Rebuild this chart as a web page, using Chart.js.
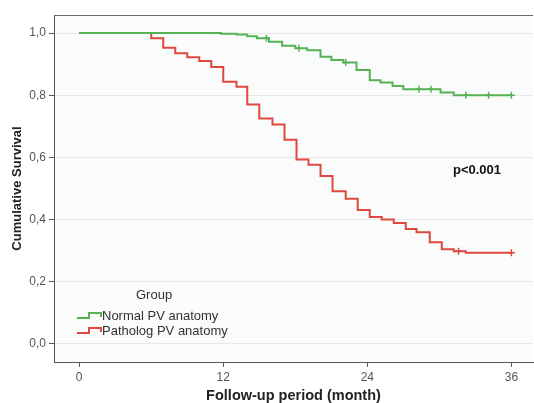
<!DOCTYPE html>
<html>
<head>
<meta charset="utf-8">
<script src="https://cdn.jsdelivr.net/npm/chart.js@4.4.1/dist/chart.umd.min.js"></script>
<style>
html, body { margin: 0; padding: 0; background: #fff; }
#wrap { width: 534px; height: 403px; }
</style>
</head>
<body>
<div id="wrap"><canvas id="kmChart" width="534" height="403"></canvas></div>
<script>
// Kaplan-Meier curves (month, cumulative survival)
const normalMonths = [0, 11.8, 13.1, 14.0, 14.8, 15.8, 16.9, 18.0, 19.0, 20.1, 21.0, 22.0, 23.1, 24.2, 25.1, 26.1, 27.0, 30.1, 31.2, 36];
const normalSurv   = [1.0, 0.998, 0.995, 0.990, 0.983, 0.972, 0.959, 0.951, 0.945, 0.924, 0.913, 0.905, 0.881, 0.848, 0.841, 0.830, 0.819, 0.809, 0.800, 0.800];

const pathMonths = [0, 6.0, 7.0, 8.0, 9.0, 10.0, 11.0, 12.0, 13.1, 14.0, 15.0, 16.1, 17.1, 18.1, 19.1, 20.1, 21.1, 22.2, 23.2, 24.2, 25.2, 26.2, 27.2, 28.1, 29.2, 30.2, 31.2, 32.2, 36];
const pathSurv   = [1.0, 0.983, 0.953, 0.935, 0.922, 0.910, 0.891, 0.843, 0.827, 0.770, 0.725, 0.706, 0.657, 0.593, 0.576, 0.540, 0.491, 0.467, 0.431, 0.408, 0.400, 0.389, 0.370, 0.359, 0.327, 0.305, 0.298, 0.293, 0.293];

// censored cases (+ marks)
const normalCensMonths = [15.6, 18.3, 22.2, 28.3, 29.3, 32.2, 34.1, 36];
const normalCensSurv   = [0.983, 0.951, 0.905, 0.819, 0.819, 0.800, 0.800, 0.800];
const pathCensMonths = [31.6, 36];
const pathCensSurv   = [0.298, 0.293];

const xTicks = [0, 12, 24, 36];
const yTicks = [0, 0.2, 0.4, 0.6, 0.8, 1.0];

const groupNames = ['Normal PV anatomy', 'Patholog PV anatomy'];
const green = 'rgb(86,178,84)';
const red = 'rgb(222,72,62)';
const fontFam = '"Liberation Sans", Arial, sans-serif';

function toPoints(xs, ys) {
    return xs.map((x, i) => ({ x: x, y: ys[i] }));
}

// plot area background + top line
const frame = {
    id: 'frame',
    beforeDraw(chart) {
        const { ctx, chartArea: a } = chart;
        ctx.save();
        ctx.fillStyle = '#fafbfb';
        ctx.fillRect(a.left, a.top, a.right - a.left, a.bottom - a.top);
        ctx.restore();
    },
    afterDraw(chart) {
        const { ctx, chartArea: a } = chart;
        ctx.save();
        ctx.strokeStyle = '#666';
        ctx.lineWidth = 1;
        ctx.beginPath();
        ctx.moveTo(a.left, a.top + 0.5);
        ctx.lineTo(a.right, a.top + 0.5);
        ctx.stroke();
        ctx.restore();
    }
};

// "Group" legend and p value
const notes = {
    id: 'notes',
    afterDraw(chart) {
        const ctx = chart.ctx;
        ctx.save();
        ctx.textBaseline = 'middle';
        ctx.fillStyle = '#333';
        ctx.font = '13px ' + fontFam;
        ctx.fillText('Group', 136, 295);

        const rows = [[green, 316], [red, 331]];
        rows.forEach((r, i) => {
            ctx.strokeStyle = r[0];
            ctx.lineWidth = 2;
            ctx.beginPath();
            ctx.moveTo(77, r[1] + 2);
            ctx.lineTo(89, r[1] + 2);
            ctx.lineTo(89, r[1] - 3);
            ctx.lineTo(101, r[1] - 3);
            ctx.lineTo(101, r[1] + 1);
            ctx.stroke();
            ctx.fillStyle = '#333';
            ctx.fillText(groupNames[i], 102, r[1]);
        });

        ctx.font = 'bold 13px ' + fontFam;
        ctx.fillStyle = '#111';
        ctx.fillText('p<0.001', 453, 170);
        ctx.restore();
    }
};

const ctx = document.getElementById('kmChart');

const kmChart = new Chart(ctx, {
    type: 'line',
    data: {
        datasets: [{
            label: groupNames[0],
            data: toPoints(normalMonths, normalSurv),
            borderColor: green,
            borderWidth: 2,
            stepped: 'before',
            pointRadius: 0,
            fill: false
        }, {
            label: groupNames[1],
            data: toPoints(pathMonths, pathSurv),
            borderColor: red,
            borderWidth: 2,
            stepped: 'before',
            pointRadius: 0,
            fill: false
        }, {
            type: 'scatter',
            data: toPoints(normalCensMonths, normalCensSurv),
            borderColor: green,
            pointStyle: 'cross',
            pointRadius: 3.5,
            pointBorderWidth: 1.5
        }, {
            type: 'scatter',
            data: toPoints(pathCensMonths, pathCensSurv),
            borderColor: red,
            pointStyle: 'cross',
            pointRadius: 3.5,
            pointBorderWidth: 1.5
        }]
    },
    options: {
        responsive: false,
        animation: false,
        layout: { autoPadding: false, padding: { top: 15, right: 1, left: 0, bottom: 0 } },
        plugins: {
            legend: { display: false },
            tooltip: { enabled: false }
        },
        scales: {
            x: {
                type: 'linear',
                min: -2.1,
                max: 37.8,
                afterFit: (s) => { s.height = 41; s.paddingLeft = 0; s.paddingRight = 0; },
                afterBuildTicks: (s) => { s.ticks = xTicks.map(v => ({ value: v })); },
                grid: { drawOnChartArea: false, tickLength: 5, tickColor: '#555' },
                border: { color: '#555' },
                ticks: { color: '#555', padding: 3, font: { family: fontFam, size: 12 } },
                title: {
                    display: true,
                    text: 'Follow-up period (month)',
                    color: '#222',
                    padding: { top: 0, bottom: 0 },
                    font: { family: fontFam, size: 14.5, weight: 'bold', lineHeight: 1 }
                }
            },
            y: {
                min: -0.058,
                max: 1.058,
                afterFit: (s) => { s.width = 54; },
                afterBuildTicks: (s) => { s.ticks = yTicks.map(v => ({ value: v })); },
                grid: { color: '#e8e8e8', tickLength: 5, tickColor: '#555' },
                border: { color: '#555' },
                ticks: {
                    color: '#555',
                    padding: 3,
                    font: { family: fontFam, size: 12 },
                    callback: (v) => v.toFixed(1).replace('.', ',')
                },
                title: {
                    display: true,
                    text: 'Cumulative Survival',
                    color: '#222',
                    padding: { top: 10, bottom: 0 },
                    font: { family: fontFam, size: 13, weight: 'bold', lineHeight: 1.2 }
                }
            }
        }
    },
    plugins: [frame, notes]
});
</script>
</body>
</html>
